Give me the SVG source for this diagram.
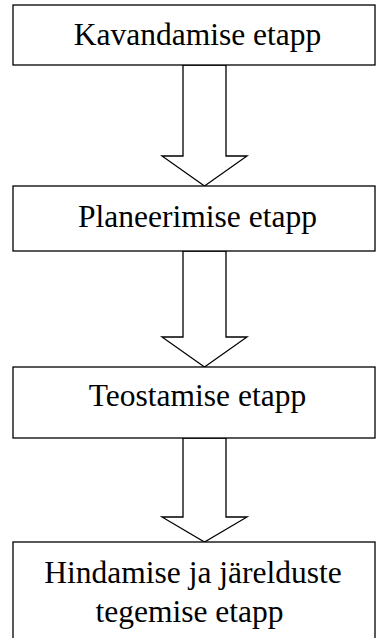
<svg xmlns="http://www.w3.org/2000/svg" width="376" height="638" viewBox="0 0 376 638">
<style>
.box{fill:#fff;stroke:#000;stroke-width:1.3}
.arr{fill:#fff;stroke:#000;stroke-width:1.3;stroke-linejoin:miter}
.t{font-family:"Liberation Serif","Times New Roman",serif;font-size:31.5px;fill:#000;text-anchor:middle}
</style>
<rect width="376" height="638" fill="#fff"/>
<g id="connectors">
<polygon class="arr" points="183,65 226,65 226,156 247,156 204.5,186 162,156 183,156"/>
<polygon class="arr" points="183,251 226,251 226,337 247,337 204.5,367 162,337 183,337"/>
<polygon class="arr" points="183,438 226,438 226,517 247,517 204.5,542 162,517 183,517"/>
</g>
<g id="node1">
<rect class="box" x="13" y="5" width="362" height="60"/>
<text class="t" x="197.5" y="45">Kavandamise etapp</text>
</g>
<g id="node2">
<rect class="box" x="13" y="186" width="362" height="65"/>
<text class="t" x="197.5" y="227">Planeerimise etapp</text>
</g>
<g id="node3">
<rect class="box" x="13" y="367" width="362" height="71"/>
<text class="t" x="197.5" y="406">Teostamise etapp</text>
</g>
<g id="node4">
<rect class="box" x="13" y="542" width="362" height="110"/>
<text class="t" x="193" y="583">Hindamise ja järelduste</text>
<text class="t" x="189.5" y="622">tegemise etapp</text>
</g>
</svg>
